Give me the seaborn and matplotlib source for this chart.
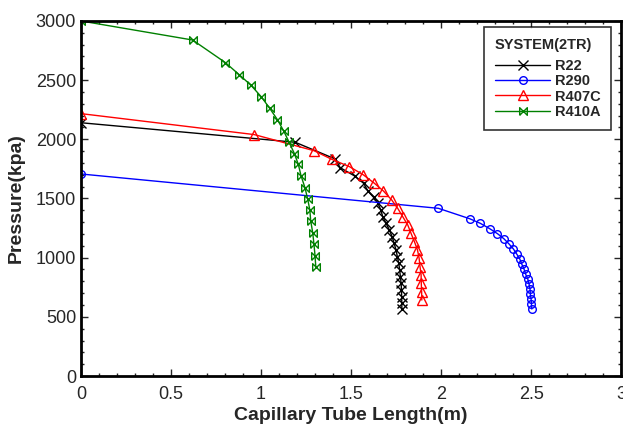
import matplotlib
matplotlib.use("Agg")
import matplotlib.pyplot as plt
import seaborn as sns
import pandas as pd
import numpy as np
from matplotlib.path import Path
from matplotlib.ticker import MultipleLocator

# ---- data ----
r22_x = [0, 1.19, 1.41, 1.44, 1.52, 1.57, 1.595, 1.625, 1.648, 1.665, 1.676, 1.694, 1.713, 1.728,
         1.739, 1.75, 1.757, 1.765, 1.77, 1.774, 1.778, 1.78, 1.781, 1.782, 1.782]
r22_y = [2140, 1975, 1835, 1760, 1690, 1628, 1560, 1510, 1465, 1403, 1346, 1290, 1234, 1177,
         1121, 1065, 1008, 952, 896, 839, 783, 727, 670, 614, 564]

r290_x = [0, 1.985, 2.159, 2.218, 2.27, 2.313, 2.348, 2.376, 2.402, 2.42, 2.437, 2.448, 2.461,
          2.47, 2.482, 2.489, 2.494, 2.496, 2.5, 2.502, 2.504]
r290_y = [1707, 1417, 1329, 1290, 1245, 1203, 1161, 1118, 1073, 1031, 989, 946, 902,
          859, 817, 775, 733, 690, 648, 606, 566]

r407c_x = [0, 0.962, 1.294, 1.393, 1.491, 1.569, 1.63, 1.68, 1.726, 1.759, 1.787, 1.815, 1.833,
           1.852, 1.869, 1.878, 1.883, 1.889, 1.89, 1.892, 1.893]
r407c_y = [2217, 2040, 1904, 1831, 1769, 1699, 1628, 1563, 1487, 1417, 1346, 1276, 1206,
           1135, 1065, 995, 924, 854, 783, 712, 642]

r410a_x = [0, 0.620, 0.802, 0.878, 0.944, 1.002, 1.048, 1.091, 1.126, 1.156, 1.185, 1.207, 1.222,
           1.244, 1.259, 1.271, 1.276, 1.287, 1.294, 1.300, 1.304]
r410a_y = [3000, 2839, 2648, 2547, 2457, 2358, 2262, 2166, 2070, 1975, 1880, 1789, 1693,
           1591, 1496, 1403, 1310, 1211, 1113, 1014, 924]

series_names = ["R22", "R290", "R407C", "R410A"]
xticks = [0, 0.5, 1, 1.5, 2, 2.5, 3]
yticks = [0, 500, 1000, 1500, 2000, 2500, 3000]

# ---- style ----
sns.set_style("ticks")
plt.rcParams["font.family"] = ["Liberation Sans", "DejaVu Sans"]

bowtie = Path([(-1, -1), (-1, 1), (1, -1), (1, 1), (-1, -1)],
              [Path.MOVETO, Path.LINETO, Path.LINETO, Path.LINETO, Path.LINETO])

styles = {
    "R22": dict(color="black", marker="x", ms=6.5, mew=1.0),
    "R290": dict(color="#0000ff", marker="o", ms=5.5, mfc="none", mew=1.0),
    "R407C": dict(color="#ff0000", marker="^", ms=7, mfc="none", mew=1.0),
    "R410A": dict(color="#008000", marker=bowtie, ms=5.5, mfc="none", mew=1.0),
}
data = {
    "R22": (r22_x, r22_y),
    "R290": (r290_x, r290_y),
    "R407C": (r407c_x, r407c_y),
    "R410A": (r410a_x, r410a_y),
}

fig = plt.figure(figsize=(6.23, 4.33), dpi=100)
ax = fig.add_axes([0.130, 0.1316, 0.867, 0.82])

for name in series_names:
    xs, ys = data[name]
    df = pd.DataFrame({"x": xs, "y": ys})
    st = styles[name]
    sns.lineplot(data=df, x="x", y="y", ax=ax, sort=False, estimator=None,
                 color=st["color"], lw=1.0, marker=st["marker"], ms=st["ms"],
                 mfc=st.get("mfc", st["color"]), mec=st["color"], mew=st["mew"],
                 label=name)

ax.set_xlim(0, 3)
ax.set_ylim(0, 3000)
ax.set_xticks(xticks)
ax.set_xticklabels(["0", "0.5", "1", "1.5", "2", "2.5", "3"])
ax.set_yticks(yticks)
ax.xaxis.set_minor_locator(MultipleLocator(0.1))
ax.yaxis.set_minor_locator(MultipleLocator(100))
ax.tick_params(which="both", direction="in", top=True, right=True, labelsize=13, width=1)
ax.tick_params(which="major", length=5)
ax.tick_params(which="minor", length=2.5)
ax.tick_params(axis="x", pad=7)
for sp in ax.spines.values():
    sp.set_linewidth(2)
    sp.set_color("black")

ax.set_xlabel("Capillary Tube Length(m)", fontsize=14, fontweight="bold", labelpad=3)
ax.set_ylabel("Pressure(kpa)", fontsize=14, fontweight="bold", labelpad=8)

leg = ax.legend(title="SYSTEM(2TR)", loc="upper right", bbox_to_anchor=(0.982, 0.982),
                frameon=True, fancybox=False, edgecolor="black",
                prop={"weight": "bold", "size": 10.5}, title_fontproperties={"weight": "bold", "size": 10.5},
                borderpad=0.75, labelspacing=0.08, handlelength=3.8, handletextpad=0.3,
                borderaxespad=0)
leg.get_frame().set_linewidth(1.2)
leg._legend_box.align = "left"
leg._legend_box.sep = 5

fig.savefig("out.png", dpi=100)
